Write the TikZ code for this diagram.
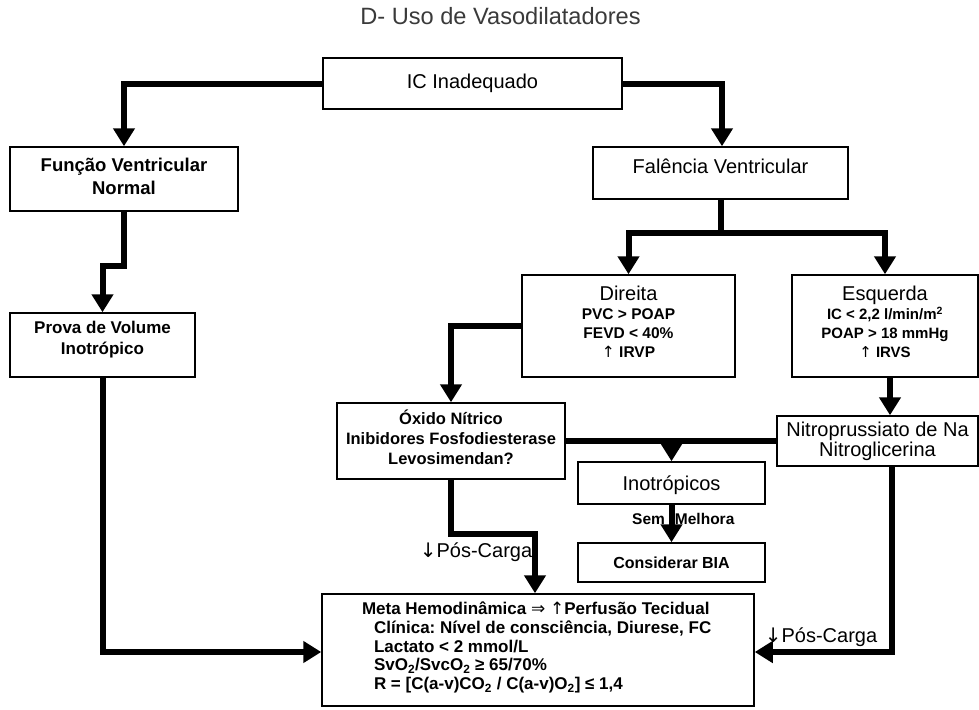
\documentclass[tikz,border=0pt]{standalone}
\usepackage{fontspec}
\setmainfont{Liberation Sans}
\newfontfamily\sym{DejaVu Sans}
\usetikzlibrary{arrows.meta}
\definecolor{titlegray}{HTML}{3A3A3A}
\newcommand{\up}[2]{\raisebox{#1}[\height][\depth]{#2}}
\frenchspacing
\begin{document}
\begin{tikzpicture}[x=1pt,y=-1pt,
  box/.style={draw=black, line width=1.5pt, fill=white, inner sep=0pt},
  conn/.style={line width=6pt, line join=miter},
  arr/.style={conn, -{Triangle[length=18pt,width=21pt]}},
  regfont/.style={font=\fontsize{20}{24}\selectfont},
  lbl/.style={inner sep=0pt}]
\useasboundingbox (0,0) rectangle (979,709);
\fill[white] (0,0) rectangle (979,709);

% title
\node[lbl, text=titlegray, font=\fontsize{23.6}{28}\selectfont] (title) at (500.5,16.5) {D- Uso de Vasodilatadores};

% boxes
\node[box, regfont, minimum width=299pt, minimum height=51pt] (ic) at (472.5,83.5) {IC Inadequado};

\node[box, font=\bfseries\fontsize{18.5}{23}\selectfont, minimum width=228pt, minimum height=64pt] (fn) at (124,179)
  {\up{2.5pt}{\parbox{220pt}{\centering Função Ventricular\\Normal}}};

\node[box, regfont, minimum width=255pt, minimum height=52pt] (fal) at (720.5,173) {\up{7pt}{Falência Ventricular}};

\node[box, font=\bfseries\fontsize{17}{21}\selectfont, minimum width=185pt, minimum height=64pt] (prova) at (102.5,345)
  {\up{5.5pt}{\parbox{180pt}{\centering Prova de Volume\\Inotrópico}}};

\node[box, minimum width=213pt, minimum height=102pt] (dir) at (628.5,326)
  {\up{4.5pt}{\parbox{205pt}{\centering\fontsize{20}{24}\selectfont Direita\\\bfseries\fontsize{15.5}{19}\selectfont PVC > POAP\\FEVD < 40\%\\{\sym\mdseries ↑} IRVP}}};

\node[box, minimum width=186pt, minimum height=102pt] (esq) at (885,326)
  {\up{4pt}{\parbox{182pt}{\centering\fontsize{20}{24}\selectfont Esquerda\\\bfseries\fontsize{15}{19}\selectfont IC < 2,2 l/min/m\textsuperscript{2}\\POAP > 18 mmHg\\{\sym\mdseries ↑} IRVS}}};

\node[box, font=\bfseries\fontsize{16.5}{20}\selectfont, minimum width=228pt, minimum height=76pt] (ox) at (451,441)
  {\up{4pt}{\parbox{222pt}{\centering Óxido Nítrico\\Inibidores Fosfodiesterase\\Levosimendan?}}};

\node[box, font=\fontsize{20}{20}\selectfont, minimum width=201pt, minimum height=50pt] (nit) at (877.5,441)
  {\parbox{198pt}{\centering Nitroprussiato de Na\\Nitroglicerina}};

\node[box, regfont, minimum width=187pt, minimum height=42pt] (ino) at (671.5,483) {\up{-2pt}{Inotrópicos}};

\node[box, font=\bfseries\fontsize{16}{19}\selectfont, minimum width=187pt, minimum height=39pt] (cons) at (671.5,562.5) {Considerar BIA};

\node[box, font=\bfseries\fontsize{17}{18.7}\selectfont, minimum width=432pt, minimum height=112pt] (meta) at (538,650)
  {\up{2.5pt}{\parbox{352pt}{\raggedright Meta Hemodinâmica {\sym\mdseries ⇒} {\sym\mdseries ↑}Perfusão Tecidual\\
  \hspace*{12pt}Clínica: Nível de consciência, Diurese, FC\\
  \hspace*{12pt}Lactato < 2 mmol/L\\
  \hspace*{12pt}SvO\textsubscript{2}/SvcO\textsubscript{2} ≥ 65/70\%\\
  \hspace*{12pt}R = [C(a-v)CO\textsubscript{2} / C(a-v)O\textsubscript{2}] ≤ 1,4}}};

% labels
\node[lbl, regfont] (pcA) at (476,552) {{\sym ↓}Pós-Carga};
\node[lbl, regfont] (pcB) at (821,637) {{\sym ↓}Pós-Carga};
\node[lbl, anchor=west, font=\bfseries\fontsize{15.5}{19}\selectfont] (sm) at (632,519) {Sem\hspace{10pt}Melhora};

% connectors
\draw[arr] (ic.west) -| (fn.north);
\draw[arr] (ic.east) -| ([xshift=1.5pt]fal.north);
\draw[arr] (fn.south) -- ++(0,54) -| (prova.north);
\draw[arr] (prova.south) |- ([yshift=-2pt]meta.west);
\coordinate (bar) at (720.5,233);
\draw[arr] (fal.south) -- (bar) -| (dir.north);
\draw[arr] (bar) -| (esq.north);
\draw[arr] (dir.west) -| (ox.north);
\draw[arr] ([xshift=5pt]esq.south) -- ([xshift=5pt]esq.south |- nit.north);
\draw[conn] (nit.west) -- (ox.east);
\draw[arr] (ino.north |- nit.west) -- (ino.north);
\draw[arr] (ino.south) -- (cons.north);
\draw[arr] (ox.south) -- ++(0,54) -| ([xshift=-3pt]meta.north);
\draw[arr] ([xshift=14.5pt]nit.south) |- ([yshift=-2pt]meta.east);
\end{tikzpicture}
\end{document}
